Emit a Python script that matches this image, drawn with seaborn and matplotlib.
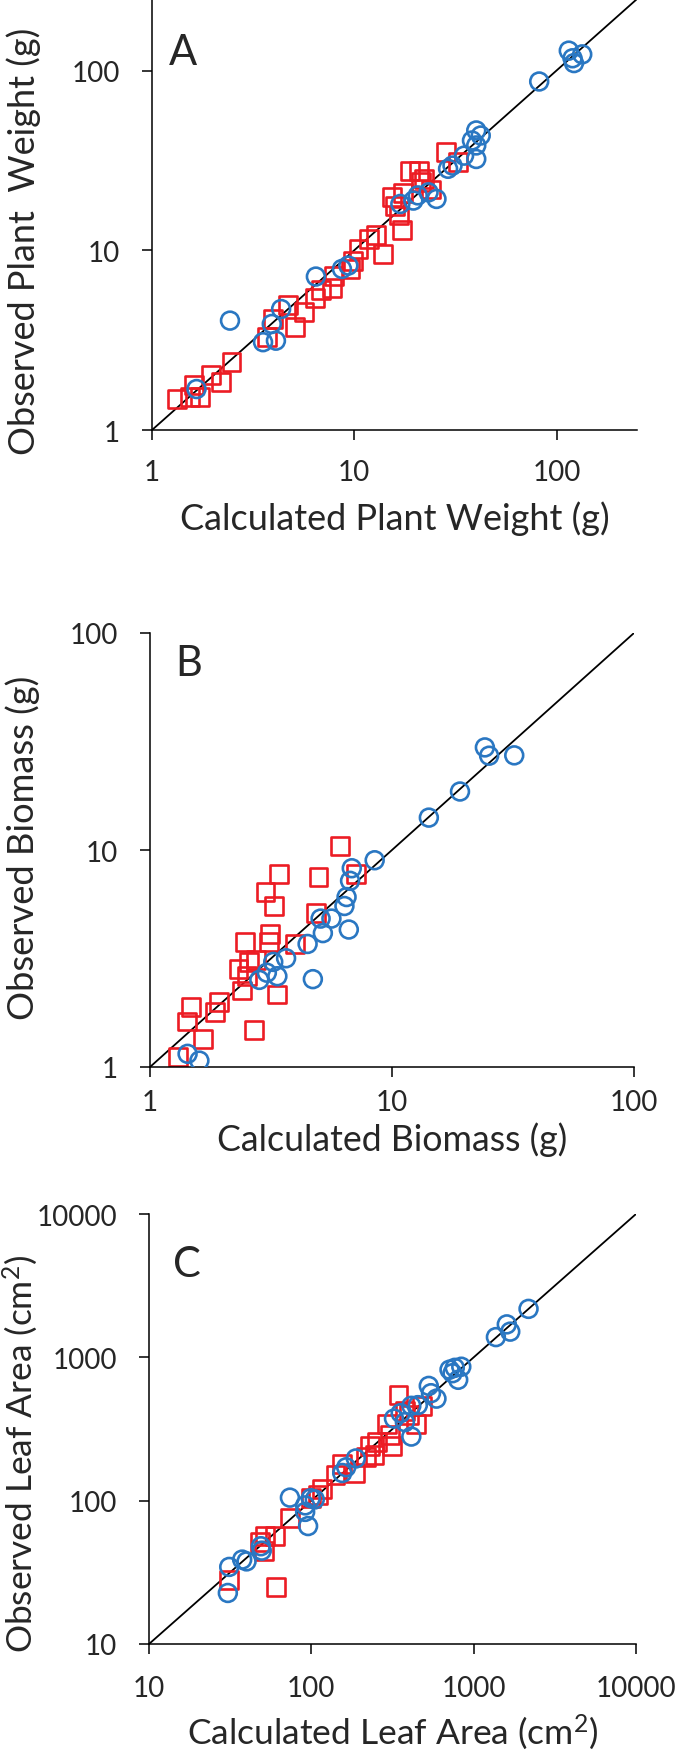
import numpy as np
import pandas as pd
import seaborn as sb
import matplotlib.pyplot as plt
from matplotlib.ticker import FixedLocator, NullLocator

sb.set_style("white")
plt.rcParams['font.family'] = ['Lato', 'DejaVu Sans']
plt.rcParams['mathtext.default'] = 'regular'

RED = "#EC1C24"
BLUE = "#2A77C2"

# ---- panel A: plant weight (g) ----
a_sq_calc = [1.33, 1.54, 1.72, 1.61, 1.96, 2.19, 2.47, 3.70, 3.98, 4.69, 5.10, 5.66, 6.37, 6.85,
             7.75, 7.95, 9.83, 9.59, 10.5, 11.8, 12.8, 13.9, 17.3, 15.9, 15.3, 16.7, 17.5, 18.9,
             20.8, 21.3, 22.2, 23.9, 28.4, 32.5]
a_sq_obs = [1.49, 1.52, 1.52, 1.78, 2.02, 1.84, 2.40, 3.28, 4.15, 4.96, 3.73, 4.52, 5.43, 6.04,
            6.14, 7.17, 8.76, 7.87, 10.2, 11.5, 12.1, 9.54, 13.0, 17.7, 19.7, 15.6, 20.9, 27.5,
            27.5, 23.9, 24.9, 21.8, 35.1, 30.9]
a_ci_calc = [1.66, 2.43, 3.54, 4.10, 3.91, 4.35, 6.46, 8.69, 9.35, 16.9, 19.6, 20.6, 23.3, 25.5,
             29.1, 30.6, 34.9, 40.1, 40.1, 42.2, 40.1, 38.2, 82.1, 115, 120, 122, 134]
a_ci_obs = [1.69, 4.06, 3.08, 3.14, 3.89, 4.71, 7.14, 7.87, 8.22, 18.1, 18.9, 20.2, 21.0, 19.3,
            28.4, 29.6, 33.6, 32.2, 38.3, 43.5, 46.4, 40.8, 86.9, 129, 117, 110, 123]

# ---- panel B: biomass (g) ----
b_sq_calc = [1.31, 1.42, 1.48, 1.65, 1.85, 1.93, 2.68, 2.40, 2.32, 2.47, 2.57, 2.52, 2.74, 3.12,
             3.10, 3.00, 3.26, 3.41, 3.34, 3.97, 4.97, 4.87, 6.11, 7.11]
b_sq_obs = [1.11, 1.62, 1.89, 1.34, 1.79, 2.00, 1.48, 2.25, 2.83, 3.77, 3.05, 2.62, 3.11, 4.11,
            3.77, 6.43, 5.52, 7.78, 2.16, 3.69, 7.50, 5.11, 10.4, 7.78]
b_ci_calc = [1.43, 1.60, 2.83, 3.04, 3.36, 3.23, 3.65, 4.48, 4.71, 5.07, 5.18, 5.62, 6.36, 6.49,
             6.63, 6.71, 6.82, 8.48, 14.2, 19.1, 24.2, 25.2, 32.0]
b_ci_obs = [1.15, 1.07, 2.52, 2.72, 2.62, 3.05, 3.17, 3.69, 2.54, 4.83, 4.14, 4.83, 5.52, 6.07,
            4.30, 7.21, 8.24, 8.97, 14.1, 18.6, 29.7, 27.2, 27.3]

# ---- panel C: leaf area (cm2) ----
c_sq_calc = [31.2, 60.6, 48.0, 51.1, 51.7, 59.5, 73.8, 100, 110, 117, 141, 155, 186, 217, 231,
             245, 253, 294, 313, 304, 344, 377, 401, 440, 482]
c_sq_obs = [28.1, 25.1, 51.8, 44.8, 56.6, 56.6, 75.6, 104, 110, 120, 152, 181, 156, 203, 242,
            209, 256, 343, 242, 288, 546, 421, 397, 343, 459]
c_ci_calc = [30.6, 31.2, 37.5, 39.9, 48.9, 49.5, 73.8, 91.6, 91.6, 95.5, 99.2, 105, 155, 164,
             188, 323, 355, 377, 413, 413, 453, 529, 546, 590, 710, 765, 803, 839, 741, 1371,
             1600, 1680, 2178]
c_ci_obs = [22.7, 34.5, 38.8, 37.7, 48.1, 44.8, 105, 92.7, 83.5, 66.5, 104, 102, 156, 171,
            197, 374, 408, 353, 459, 280, 464, 632, 562, 515, 820, 845, 697, 860, 775, 1384,
            1698, 1511, 2178]

a_ticks = [1, 10, 100]
b_ticks = [1, 10, 100]
c_ticks = [10, 100, 1000, 10000]
a_lim = [1, 250]
b_lim = [1, 100]
c_lim = [10, 10000]

# rect = (left, top, right, bottom) in pixels; label lengths in pixels
panels = [
    dict(sq=(a_sq_calc, a_sq_obs), ci=(a_ci_calc, a_ci_obs), ticks=a_ticks, lim=a_lim,
         xlabel="Calculated Plant Weight (g)", ylabel="Observed Plant  Weight (g)", letter="A",
         rect=(152, 0, 637, 431), letter_pos=(0.035, 0.849), ylab_y=0.441, xlab_y=-0.204,
         xlen=430, ylen=428, pad=14),
    dict(sq=(b_sq_calc, b_sq_obs), ci=(b_ci_calc, b_ci_obs), ticks=b_ticks, lim=b_lim,
         xlabel="Calculated Biomass (g)", ylabel="Observed Biomass (g)", letter="B",
         rect=(150, 634, 634, 1068), letter_pos=(0.052, 0.903), ylab_y=0.507, xlab_y=-0.165,
         xlen=351, ylen=344, pad=9),
    dict(sq=(c_sq_calc, c_sq_obs), ci=(c_ci_calc, c_ci_obs), ticks=c_ticks, lim=c_lim,
         xlabel="Calculated Leaf Area (cm$^2$)", ylabel="Observed Leaf Area (cm$^2$)", letter="C",
         rect=(149, 1215, 636, 1645), letter_pos=(0.049, 0.856), ylab_y=0.444, xlab_y=-0.203,
         xlen=412, ylen=398, pad=15),
]

W, H = 679, 1758
fig = plt.figure(figsize=(W / 100, H / 100), dpi=100)
renderer = fig.canvas.get_renderer()


def fit_size(txt, target, base=20.0):
    t = fig.text(0, 0, txt, fontsize=base)
    w = t.get_window_extent(renderer).width
    t.remove()
    return base * target / w


for p in panels:
    l, t, r, b = p["rect"]
    ax = fig.add_axes([l / W, 1 - b / H, (r - l) / W, (b - t) / H])
    ax.set_xscale("log")
    ax.set_yscale("log")

    # 1:1 line
    ax.plot(p["lim"], p["lim"], color="black", lw=1.3, zorder=1)

    sq = pd.DataFrame({"calc": p["sq"][0], "obs": p["sq"][1]})
    ci = pd.DataFrame({"calc": p["ci"][0], "obs": p["ci"][1]})
    sb.scatterplot(data=sq, x="calc", y="obs", marker="s", s=165, facecolors="none",
                   edgecolor=RED, linewidth=1.9, ax=ax, zorder=2)
    sb.scatterplot(data=ci, x="calc", y="obs", marker="o", s=165, facecolors="none",
                   edgecolor=BLUE, linewidth=1.9, ax=ax, zorder=3)

    ax.set_xlim(p["lim"])
    ax.set_ylim(p["lim"])
    for axis in (ax.xaxis, ax.yaxis):
        axis.set_major_locator(FixedLocator(p["ticks"]))
        axis.set_minor_locator(NullLocator())
    ax.set_xticklabels([str(v) for v in p["ticks"]])
    ax.set_yticklabels([str(v) for v in p["ticks"]])
    ax.tick_params(axis="both", which="major", direction="out", length=7, width=1.1,
                   color="black", labelsize=20, pad=16, left=True, bottom=True)
    ax.tick_params(axis="x", pad=p["pad"])

    for side in ("top", "right"):
        ax.spines[side].set_visible(False)
    for side in ("left", "bottom"):
        ax.spines[side].set_color("black")
        ax.spines[side].set_linewidth(1.1)

    ax.set_xlabel(p["xlabel"], fontsize=fit_size(p["xlabel"], p["xlen"]), va="center")
    ax.set_ylabel(p["ylabel"], fontsize=fit_size(p["ylabel"], p["ylen"]), va="center")
    ax.xaxis.set_label_coords(0.5, p["xlab_y"])
    ax.yaxis.set_label_coords(-0.264, p["ylab_y"])

    ax.text(p["letter_pos"][0], p["letter_pos"][1], p["letter"], transform=ax.transAxes,
            fontsize=30, ha="left", va="baseline")

fig.savefig("out.png", dpi=100)
